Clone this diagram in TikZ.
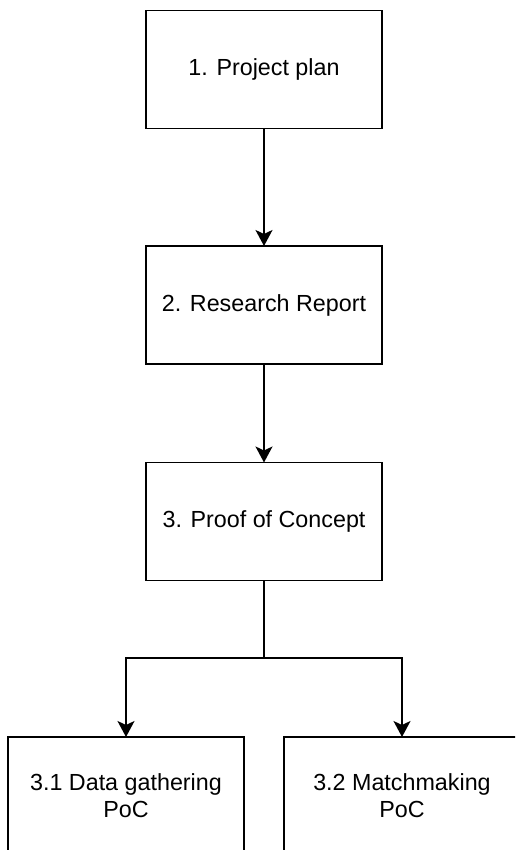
\documentclass[tikz,border=0pt]{standalone}
\usepackage{fontspec}
\setmainfont{Liberation Sans}
\usetikzlibrary{arrows.meta}
\begin{document}
\begin{tikzpicture}[x=1pt,y=1pt,
  box/.style={draw=black, line width=1.8pt, fill=white, minimum width=236pt, minimum height=118pt,
    inner sep=0pt, outer sep=0pt, align=center, font=\fontsize{23.3}{27}\selectfont},
  conn/.style={draw=black, line width=1.8pt},
  arr/.style={conn, -{Stealth[length=16pt, width=17pt, inset=4pt]}}]
\useasboundingbox (0,0) rectangle (515,-850);
\clip (0,0) rectangle (515,-850);
\fill[white] (0,0) rectangle (515,-850);
\node[box] (n1) at (264,-69.5) {1. Project plan};
\node[box] (n2) at (264,-305) {2. Research Report};
\node[box] (n3) at (264,-521.5) {3. Proof of Concept};
\node[box] (n31) at (126,-796) {3.1 Data gathering\\PoC};
\node[box] (n32) at (402,-796) {3.2 Matchmaking\\PoC};
\coordinate (j) at (264,-658);
\draw[arr] (n1) -- (n2);
\draw[arr] (n2) -- (n3);
\draw[conn] (n3.south) -- (j);
\draw[arr] (j) -| (n31.north);
\draw[arr] (j) -| (n32.north);
\end{tikzpicture}
\end{document}
